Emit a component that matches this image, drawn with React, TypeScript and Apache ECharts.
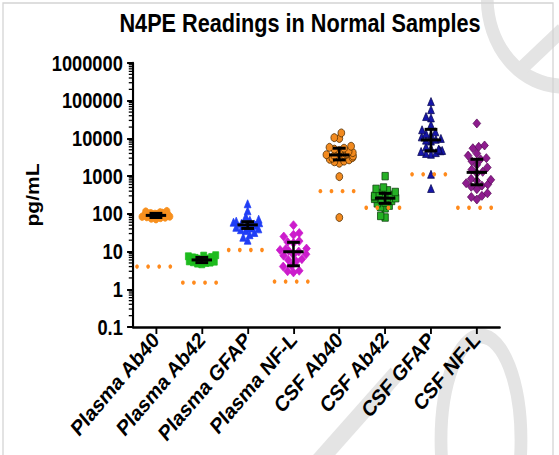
import React, { useEffect, useRef } from "react";
import * as echarts from "echarts";

// ---------- data ----------
const categories = [
  "Plasma Ab40",
  "Plasma Ab42",
  "Plasma GFAP",
  "Plasma NF-L",
  "CSF Ab40",
  "CSF Ab42",
  "CSF GFAP",
  "CSF NF-L",
];

const plasmaAb40 = [72, 75, 78, 80, 82, 84, 85, 86, 88, 89, 90, 91, 92, 93, 94, 96, 98, 100, 102, 104, 106, 110, 115, 118];
const plasmaAb42 = [4.6, 4.8, 5.0, 5.1, 5.2, 5.4, 5.5, 5.6, 5.7, 5.8, 5.9, 6.0, 6.0, 6.1, 6.2, 6.3, 6.5, 6.6, 6.8, 7.0, 7.2, 7.5, 7.8, 8.0];
const plasmaGFAP = [20, 24, 28, 32, 36, 38, 40, 42, 44, 46, 48, 50, 52, 54, 56, 58, 60, 62, 64, 68, 72, 85, 120, 185];
const plasmaNFL = [2.8, 3.0, 3.1, 4.0, 4.2, 5.5, 6.0, 6.3, 7.8, 8.2, 8.5, 10, 10.5, 11, 11.5, 12, 17, 18, 19, 25, 28, 31, 50];
const csfAb40 = [80, 970, 2200, 2400, 2500, 2700, 2800, 3000, 3100, 3300, 3400, 3500, 3600, 3700, 3800, 4000, 4200, 4500, 4800, 5200, 5500, 5800, 6200, 10000, 10500, 14000];
const csfAb42 = [80, 88, 140, 150, 165, 190, 200, 220, 240, 250, 260, 270, 280, 300, 320, 340, 360, 380, 420, 460, 500, 1000];
const csfGFAP = [470, 1120, 3800, 4000, 4200, 4500, 4700, 4800, 5000, 5200, 5500, 6000, 8500, 9000, 9500, 10000, 11000, 12500, 13500, 15000, 17000, 23000, 35000, 38000, 58000, 95000];
const csfNFL = [240, 280, 300, 350, 450, 520, 560, 600, 650, 750, 800, 850, 1200, 1300, 1500, 1700, 2000, 2500, 2800, 3000, 3500, 4000, 5500, 6000, 6500, 25000];

const groups = [plasmaAb40, plasmaAb42, plasmaGFAP, plasmaNFL, csfAb40, csfAb42, csfGFAP, csfNFL];

// median with interquartile range (error bars)
const q1 = [80, 5.1, 41, 4.2, 2700, 190, 4700, 590];
const median = [91, 6.0, 51, 9.9, 3650, 260, 9100, 1260];
const q3 = [103, 7.0, 62, 17.6, 5500, 350, 17400, 2800];

// lower limit of quantification (dotted orange lines)
const lloq = [4, 1.5, 11, 1.6, 400, 145, 1120, 145];

// ---------- styles ----------
const markerStyles = [
  { symbol: "circle", color: "#F7901E", border: "#F7901E", size: 7.5 },
  { symbol: "rect", color: "#1EBB1E", border: "#1EBB1E", size: 7 },
  { symbol: "triangle", color: "#1F3DF5", border: "#1F3DF5", size: 8 },
  { symbol: "diamond", color: "#CC1CCC", border: "#CC1CCC", size: 9 },
  { symbol: "circle", color: "#F28A1F", border: "#4A2A00", size: 8 },
  { symbol: "rect", color: "#25B025", border: "#0A3A0A", size: 7.5 },
  { symbol: "triangle", color: "#1515A8", border: "#0A0A50", size: 8 },
  { symbol: "diamond", color: "#8E1C8E", border: "#5A0A5A", size: 9 },
];

const S = 0.85; // horizontal compression of the reference picture
const W = 559 / S;
const H = 455;
const FONT = "Liberation Sans, Arial, sans-serif";
const WM = "#e4e4e4"; // watermark grey

export default function App() {
  const ref = useRef<HTMLDivElement>(null);

  useEffect(() => {
    if (!ref.current) return;
    const chart = echarts.init(ref.current, null, { renderer: "svg" });

    const minorTicks: number[] = [];
    for (let e = -1; e < 6; e++) {
      for (let k = 2; k <= 9; k++) minorTicks.push(k * Math.pow(10, e));
    }

    const scatterSeries = groups.map((vals, i) => ({
      type: "scatter",
      name: categories[i],
      data: vals.map((v) => [i, v]),
      symbol: markerStyles[i].symbol,
      symbolSize: markerStyles[i].size,
      itemStyle: {
        color: markerStyles[i].color,
        borderColor: markerStyles[i].border,
        borderWidth: 0.8,
        opacity: 1,
      },
      z: 3,
      silent: true,
    }));

    const sx = (x: number) => x / S;

    const option: any = {
      animation: false,
      backgroundColor: "#ffffff",
      title: {
        text: "N4PE Readings in Normal Samples",
        left: 348,
        top: 5,
        textAlign: "center",
        textStyle: {
          fontFamily: FONT,
          fontWeight: "bold",
          fontSize: 25.5,
          color: "#000",
        },
      },
      grid: { left: 156.5, right: W - 587.6, top: 63, bottom: 128, containLabel: false },
      xAxis: {
        type: "category",
        data: categories,
        boundaryGap: true,
        jitter: 34,
        jitterOverlap: false,
        jitterMargin: -2,
        axisLine: { show: true, lineStyle: { color: "#000", width: 2.5 } },
        axisTick: { show: true, alignWithLabel: true, length: 7, lineStyle: { color: "#000", width: 2.2 } },
        axisLabel: {
          interval: 0,
          rotate: 45,
          margin: 9,
          color: "#000",
          fontFamily: FONT,
          fontWeight: "bold",
          fontSize: 22,
        },
        splitLine: { show: false },
      },
      yAxis: {
        type: "log",
        logBase: 10,
        min: 0.1,
        max: 1000000,
        splitNumber: 7,
        name: "pg/mL",
        nameLocation: "middle",
        nameGap: 108,
        nameTextStyle: {
          fontFamily: FONT,
          fontWeight: "bold",
          fontSize: 21,
          color: "#000",
        },
        axisLine: { show: true, lineStyle: { color: "#000", width: 2.5 } },
        axisTick: { show: true, length: 7, lineStyle: { color: "#000", width: 2 } },
        axisLabel: {
          margin: 12,
          color: "#000",
          fontFamily: FONT,
          fontWeight: "bold",
          fontSize: 21.5,
          formatter: (v: number) => (v >= 1 ? String(Math.round(v)) : String(+v.toPrecision(1))),
        },
        splitLine: { show: false },
      },
      graphic: [
        {
          type: "group",
          z: -10,
          silent: true,
          children: [
            // faint watermark strokes
            {
              type: "arc",
              shape: { cx: sx(562), cy: -2, r: 88, startAngle: Math.PI / 2, endAngle: Math.PI, clockwise: true },
              style: { stroke: WM, lineWidth: 15, fill: "none" },
            },
            {
              type: "line",
              shape: { x1: sx(522), y1: 68, x2: sx(562), y2: 30 },
              style: { stroke: WM, lineWidth: 15 },
            },
            {
              type: "line",
              shape: { x1: sx(318), y1: 462, x2: sx(396), y2: 374 },
              style: { stroke: WM, lineWidth: 18 },
            },
            {
              type: "ellipse",
              shape: { cx: sx(481), cy: 440, rx: sx(40), ry: 104 },
              style: { stroke: WM, lineWidth: 15, fill: "none" },
            },
            {
              type: "rect",
              shape: { x: sx(3), y: 3, width: sx(550), height: 480 },
              style: { fill: "none", stroke: "#d4d4d4", lineWidth: 1.5 },
            },
          ],
        },
      ],
      series: [
        // minor ticks on the log axis
        {
          type: "custom",
          silent: true,
          z: 4,
          data: minorTicks.map((v) => [0, v]),
          encode: { x: 0, y: 1 },
          renderItem: (params: any, api: any) => {
            const y = api.coord([0, api.value(1)])[1];
            const x0 = params.coordSys.x;
            return {
              type: "line",
              shape: { x1: x0 - 5, y1: y, x2: x0, y2: y },
              style: { stroke: "#000", lineWidth: 1.3 },
            };
          },
        },
        ...scatterSeries,
        // LLOQ dotted lines
        {
          type: "custom",
          silent: true,
          z: 5,
          data: lloq.map((v, i) => [i, v]),
          encode: { x: 0, y: 1 },
          renderItem: (params: any, api: any) => {
            const p = api.coord([api.value(0), api.value(1)]);
            const bw = api.size([1, 0])[0];
            const children = [0, 1, 2, 3].map((k) => ({
              type: "circle",
              shape: { cx: p[0] + ((k - 1.5) * 0.242 - 0.05) * bw, cy: p[1], r: 2.2 },
              style: { fill: "#FF8A1C" },
            }));
            return { type: "group", children };
          },
        },
        // median with interquartile range
        {
          type: "custom",
          silent: true,
          z: 6,
          data: categories.map((c, i) => [i, q1[i], median[i], q3[i]]),
          encode: { x: 0, y: [1, 2, 3] },
          renderItem: (params: any, api: any) => {
            const i = api.value(0);
            const x = api.coord([i, api.value(2)])[0];
            const y1 = api.coord([i, api.value(1)])[1];
            const ym = api.coord([i, api.value(2)])[1];
            const y3 = api.coord([i, api.value(3)])[1];
            const st = { stroke: "#000", lineWidth: 3 };
            return {
              type: "group",
              children: [
                { type: "line", shape: { x1: x, y1: y1, x2: x, y2: y3 }, style: st },
                { type: "line", shape: { x1: x - 7.5, y1: y1, x2: x + 7.5, y2: y1 }, style: st },
                { type: "line", shape: { x1: x - 7.5, y1: y3, x2: x + 7.5, y2: y3 }, style: st },
                { type: "line", shape: { x1: x - 12, y1: ym, x2: x + 12, y2: ym }, style: st },
              ],
            };
          },
        },
      ],
    };

    chart.setOption(option);
    return () => chart.dispose();
  }, []);

  return (
    <div
      style={{
        position: "absolute",
        left: 0,
        top: 0,
        width: 559,
        height: H,
        overflow: "hidden",
        background: "#fff",
      }}
    >
      <div
        ref={ref}
        style={{
          width: W,
          height: H,
          transform: `scaleX(${S})`,
          transformOrigin: "0 0",
        }}
      />
    </div>
  );
}
